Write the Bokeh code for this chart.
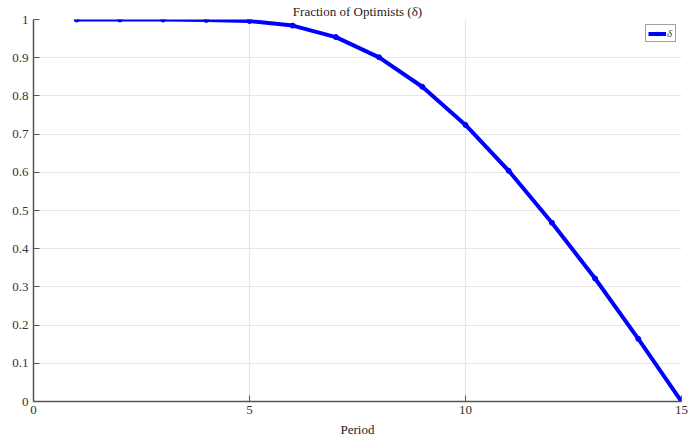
from bokeh.plotting import figure
from bokeh.embed import file_html
from bokeh.resources import INLINE
from bokeh.models import FixedTicker, Legend, LegendItem, Range1d

periods = [1, 2, 3, 4, 5, 6, 7, 8, 9, 10, 11, 12, 13, 14, 15]
delta = [1.0, 1.0, 1.0, 0.999, 0.996, 0.984, 0.954, 0.901, 0.824, 0.724, 0.604, 0.468, 0.322, 0.164, 0.0]
x_ticks = [0, 5, 10, 15]
y_ticks = [0, 0.1, 0.2, 0.3, 0.4, 0.5, 0.6, 0.7, 0.8, 0.9, 1.0]

FONT = "'Liberation Serif', 'Times New Roman', serif"

p = figure(width=688, height=439, output_backend="svg", toolbar_location=None,
           x_range=Range1d(0, 15), y_range=Range1d(0, 1),
           title="Fraction of Optimists (δ)",
           min_border_left=33, min_border_right=7, min_border_top=0, min_border_bottom=0)

p.outline_line_color = None
p.background_fill_color = "white"
p.border_fill_color = "white"

p.title.align = "center"
p.title.text_font = FONT
p.title.text_font_size = "13px"
p.title.text_font_style = "normal"
p.title.text_color = "#222222"
p.title.standoff = 2
p.title.offset = 0

for ax in (p.xaxis[0], p.yaxis[0]):
    ax.axis_line_color = "#555555"
    ax.axis_line_width = 1.5
    ax.major_tick_line_color = "#555555"
    ax.major_tick_in = 6
    ax.major_tick_out = 0
    ax.minor_tick_line_color = None
    ax.major_label_text_font = FONT
    ax.major_label_text_font_size = "13px"
    ax.major_label_text_color = "#333333"
    ax.axis_label_text_font = FONT
    ax.axis_label_text_font_size = "13px"
    ax.axis_label_text_font_style = "normal"
    ax.axis_label_text_color = "#222222"

p.xaxis.ticker = FixedTicker(ticks=x_ticks)
p.yaxis.ticker = FixedTicker(ticks=y_ticks)
p.xaxis.major_label_overrides = {0: "0", 5: "5", 10: "10", 15: "15"}
p.yaxis.major_label_overrides = {t: ("0" if t == 0 else "1" if t == 1 else f"{t:.1f}") for t in y_ticks}
p.xaxis.axis_label = "Period"
p.xaxis.axis_label_standoff = 5
p.xaxis.major_label_standoff = 4
p.yaxis.major_label_standoff = 5

p.xgrid.grid_line_color = "#e6e6e6"
p.ygrid.grid_line_color = "#e6e6e6"
p.xgrid.grid_line_width = 1.2
p.ygrid.grid_line_width = 1.2

ln = p.line(periods, delta, line_color="#0000ff", line_width=4)
sc = p.scatter(periods, delta, marker="circle", size=5, fill_color="#0000ff", line_color="#0000ff")

legend = Legend(items=[LegendItem(label="δ", renderers=[ln, sc])],
                location="top_right",
                label_text_font=FONT, label_text_font_style="italic",
                label_text_font_size="11px",
                glyph_width=18, glyph_height=9,
                label_standoff=1, label_height=9, label_width=6,
                padding=2, spacing=0, margin=5,
                border_line_color="#444444", border_line_width=1,
                background_fill_alpha=1.0)
p.add_layout(legend)

open("out.html", "w").write(file_html(p, INLINE))
